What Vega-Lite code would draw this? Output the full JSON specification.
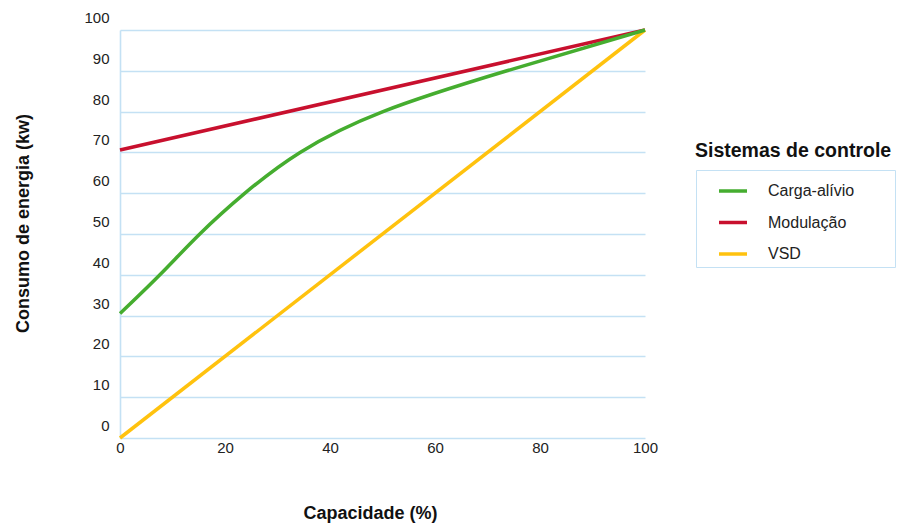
{
  "$schema": "https://vega.github.io/schema/vega-lite/v6.json",
  "width": 525,
  "height": 408,
  "autosize": {"type": "none"},
  "padding": {"left": 120, "top": 30, "right": 253, "bottom": 87},
  "background": "#ffffff",
  "title": {
    "text": "Sistemas de controle",
    "anchor": "start",
    "frame": "group",
    "dx": 575,
    "dy": 155,
    "font": "Liberation Sans",
    "fontSize": 19.5,
    "fontWeight": "bold",
    "color": "#111111"
  },
  "config": {
    "view": {"stroke": null},
    "font": "Liberation Sans"
  },
  "data": {
    "values": [
      {"capacidade": 0, "consumo": 70.6, "sistema": "Modulação"},
      {"capacidade": 100, "consumo": 100, "sistema": "Modulação"},
      {"capacidade": 0, "consumo": 0, "sistema": "VSD"},
      {"capacidade": 100, "consumo": 100, "sistema": "VSD"},
      {"capacidade": 0, "consumo": 30.5, "sistema": "Carga-alívio"},
      {"capacidade": 7.6, "consumo": 40, "sistema": "Carga-alívio"},
      {"capacidade": 15.2, "consumo": 50, "sistema": "Carga-alívio"},
      {"capacidade": 23.8, "consumo": 60, "sistema": "Carga-alívio"},
      {"capacidade": 34.3, "consumo": 70, "sistema": "Carga-alívio"},
      {"capacidade": 50.1, "consumo": 80, "sistema": "Carga-alívio"},
      {"capacidade": 73.7, "consumo": 90, "sistema": "Carga-alívio"},
      {"capacidade": 100, "consumo": 100, "sistema": "Carga-alívio"}
    ]
  },
  "encoding": {
    "x": {
      "field": "capacidade",
      "type": "quantitative",
      "scale": {"domain": [0, 100], "nice": false},
      "axis": {
        "title": "Capacidade (%)",
        "values": [0, 20, 40, 60, 80, 100],
        "grid": false,
        "domain": false,
        "ticks": false,
        "tickSize": 0,
        "labelFlush": false,
        "labelPadding": 2,
        "labelFontSize": 15,
        "labelColor": "#222222",
        "labelFont": "Liberation Sans",
        "titleFont": "Liberation Sans",
        "titleFontSize": 18,
        "titleFontWeight": "bold",
        "titleColor": "#111111",
        "titleX": 250,
        "titleY": 80,
        "titleAlign": "center",
        "titleBaseline": "alphabetic"
      }
    },
    "y": {
      "field": "consumo",
      "type": "quantitative",
      "scale": {"domain": [0, 100], "nice": false},
      "axis": {
        "title": "Consumo de energia (kw)",
        "values": [0, 10, 20, 30, 40, 50, 60, 70, 80, 90, 100],
        "grid": true,
        "gridColor": "#c4e1f4",
        "gridWidth": 1.6,
        "domain": true,
        "domainColor": "#c4e1f4",
        "domainWidth": 1.6,
        "ticks": false,
        "tickSize": 0,
        "labelFlush": false,
        "labelPadding": 11,
        "labelOffset": -12.5,
        "labelBaseline": "middle",
        "labelFontSize": 15,
        "labelColor": "#222222",
        "labelFont": "Liberation Sans",
        "titleFont": "Liberation Sans",
        "titleFontSize": 18,
        "titleFontWeight": "bold",
        "titleColor": "#111111",
        "titleX": -92,
        "titleY": 193,
        "titleAlign": "center",
        "titleBaseline": "alphabetic",
        "titleAngle": -90
      }
    },
    "color": {
      "field": "sistema",
      "type": "nominal",
      "scale": {
        "domain": ["Carga-alívio", "Modulação", "VSD"],
        "range": ["#45ad2f", "#c8102e", "#ffc20e"]
      },
      "legend": {
        "title": null,
        "orient": "none",
        "legendX": 576,
        "legendY": 140,
        "padding": 5,
        "strokeColor": "#c4e1f4",
        "symbolType": "stroke",
        "symbolSize": 784,
        "symbolStrokeWidth": 3.5,
        "symbolOffset": 16,
        "rowPadding": 7.5,
        "labelOffset": 19,
        "labelFontSize": 16,
        "labelFont": "Liberation Sans",
        "labelColor": "#222222",
        "labelExpr": "datum.label + '\u00a0\u00a0\u00a0\u00a0\u00a0\u00a0\u00a0\u00a0\u200b'"
      }
    }
  },
  "layer": [
    {
      "transform": [{"filter": "datum.sistema !== 'Carga-alívio'"}],
      "mark": {"type": "line", "strokeWidth": 3.5}
    },
    {
      "transform": [{"filter": "datum.sistema === 'Carga-alívio'"}],
      "mark": {"type": "line", "strokeWidth": 3.5, "interpolate": "natural"}
    }
  ]
}
